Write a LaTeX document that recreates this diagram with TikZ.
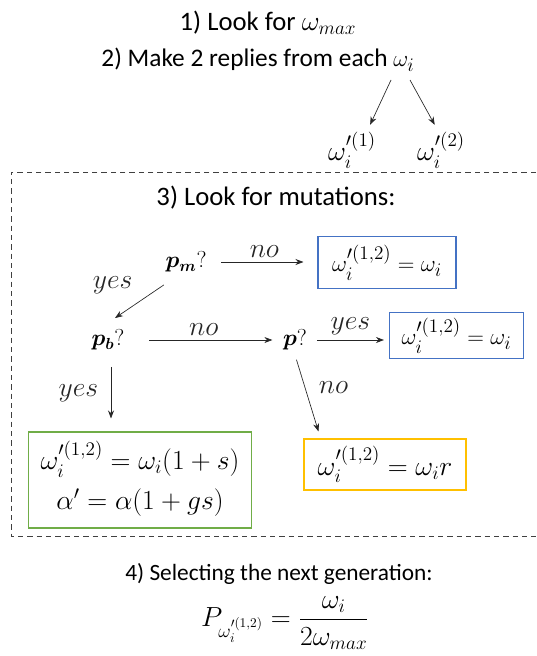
\documentclass[tikz,border=0pt]{standalone}
\usepackage{amsmath}
\usepackage{bm}
\usepackage{fontspec}
\setmainfont{Carlito}
\usetikzlibrary{arrows.meta, positioning}

\definecolor{boxblue}{HTML}{4472C4}
\definecolor{boxgreen}{HTML}{70AD47}
\definecolor{boxyellow}{HTML}{FFC000}

\begin{document}
\begin{tikzpicture}[x=0.75pt, y=-0.75pt,
    every node/.style={font=\fontsize{20}{24}\selectfont},
    flow/.style={-{Stealth[length=6pt, width=4.5pt]}, line width=0.5pt, black!85},
    cond/.style={font=\fontsize{18}{22}\selectfont},
    result/.style={draw, line width=0.8pt, font=\fontsize{19}{23}\selectfont},
    answer/.style={font=\fontsize{20.5}{24}\selectfont}
]
\useasboundingbox (0,0) rectangle (536,656);

% Steps 1 and 2
\node (s1) at (268,23) {1) Look for $\omega_{max}$};
\node[font=\fontsize{19}{23}\selectfont] (s2) at (258,60) {2) Make 2 replies from each $\omega_i$};
\coordinate (f1) at (391,80);
\coordinate (f2) at (410,80);
\node[font=\fontsize{21}{25}\selectfont] (r1) at (352,150) {$\omega_i'^{(1)}$};
\node[font=\fontsize{21}{25}\selectfont] (r2) at (441,150) {$\omega_i'^{(2)}$};
\draw[flow, shorten >=2pt] (f1) -- ([xshift=12.75pt]r1.north);
\draw[flow, shorten >=2pt] (f2) -- ([xshift=-3.75pt]r2.north);

% Step 3: mutations
\draw[dashed, dash pattern=on 4pt off 3pt, line width=0.7pt, black!75]
    (536,172) -- (11,172) -- (11,536) -- (536,536);
\node (s3) at (276,198) {3) Look for mutations:};

\node[cond] (pm) at (186,262) {$\bm{p_m}?$};
\node[cond] (pb) at (108,340) {$\bm{p_b}?$};
\node[cond] (pp) at (295,340) {$\bm{p}?$};

\node[result, draw=boxblue, minimum width=103.5pt, minimum height=39pt] (b1) at (387,262.5) {$\omega_i'^{(1,2)}=\omega_i$};
\node[result, draw=boxblue, minimum width=100pt, minimum height=35pt] (b2) at (456.5,335.5) {$\omega_i'^{(1,2)}=\omega_i$};
\node[result, draw=boxgreen, minimum width=166.5pt, minimum height=72pt] (bg) at (140,480)
    {\begin{tabular}{c}
     \fontsize{20}{24}\selectfont $\omega_i'^{(1,2)}=\omega_i(1+s)$\\[7pt]
     \fontsize{20.5}{24}\selectfont $\alpha'=\alpha(1+gs)$
     \end{tabular}};
\node[result, draw=boxyellow, minimum width=121.5pt, minimum height=38.25pt, font=\fontsize{20}{24}\selectfont] (by) at (385,464.5) {$\omega_i'^{(1,2)}=\omega_i r$};

\draw[flow, shorten <=7.5pt, shorten >=10.5pt] (pm.east) -- node[answer, above] {$no$} (pm.east -| b1.west);
\draw[flow, shorten <=15pt, shorten >=4.5pt] (pb.east) -- node[answer, above] {$no$} (pp.west);
\draw[flow, shorten <=4pt, shorten >=4pt] (pp.east) -- node[answer, above] {$yes$} (pp.east -| b2.west);
\draw[flow] ([xshift=2.25pt, yshift=-6pt]pm.south west) -- node[answer, pos=0, left=20pt] {$yes$} ([xshift=5.25pt, yshift=5.25pt]pb.north);
\draw[flow, shorten <=9pt, shorten >=9.75pt] ([xshift=2.25pt]pb.south) -- node[answer, midway, left=6pt] {$yes$} ([xshift=2.25pt]pb.south |- bg.north);
\draw[flow, shorten <=3.75pt] (pp.south) -- node[answer, pos=0.42, right=7pt] {$no$} ([xshift=11.25pt, yshift=5.25pt]by.north west);

% Step 4: selection
\node[font=\fontsize{17.5}{21}\selectfont] (s4) at (279,574) {4) Selecting the next generation:};
\node[font=\fontsize{19.5}{23}\selectfont] (prob) at (285,623) {$P_{\omega_i'^{(1,2)}}=\dfrac{\omega_i}{2\omega_{max}}$};

\end{tikzpicture}
\end{document}
